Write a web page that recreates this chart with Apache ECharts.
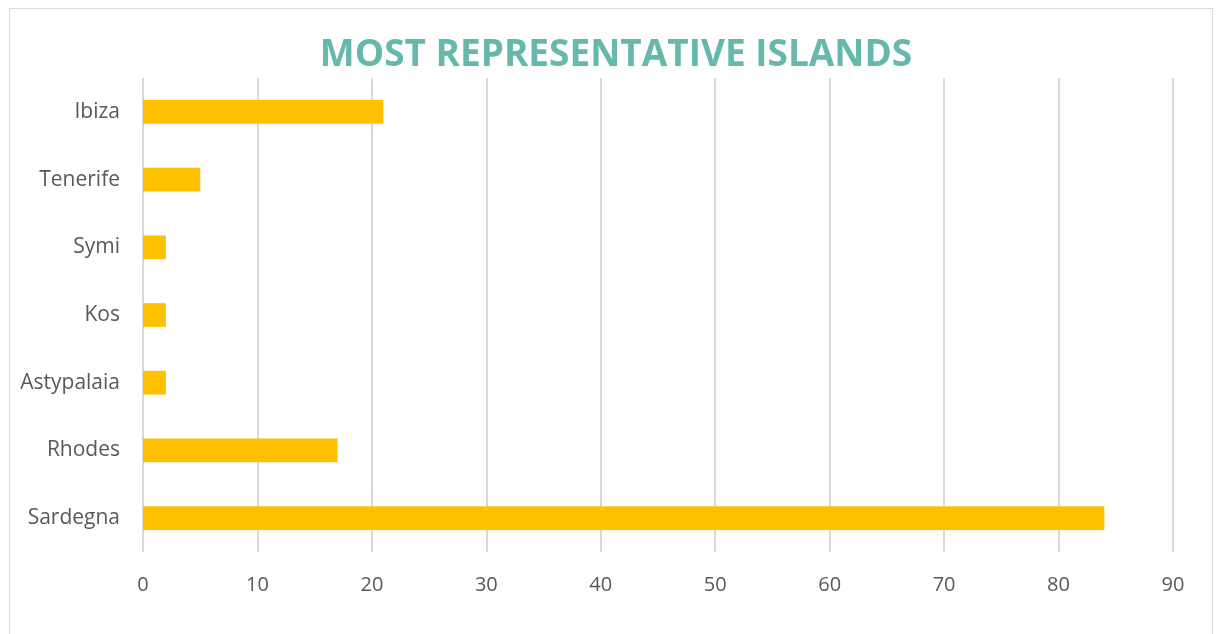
<!DOCTYPE html>
<html>
<head>
<meta charset="utf-8">
<script src="https://cdn.jsdelivr.net/npm/echarts@6/dist/echarts.min.js"></script>
<style>
  html, body { margin: 0; padding: 0; background: #ffffff; }
  #frame {
    position: absolute; left: 9px; top: 8px; width: 1204px; height: 640px;
    border: 1px solid #d9d9d9; box-sizing: border-box; background: #fff;
  }
  #chart { position: absolute; left: 0; top: 0; width: 1216px; height: 634px; }
</style>
</head>
<body>
<div id="frame"></div>
<div id="chart"></div>
<script>
// Islands listed bottom-to-top as the category axis draws them
const islands = ['Sardegna', 'Rhodes', 'Astypalaia', 'Kos', 'Symi', 'Tenerife', 'Ibiza'];
const counts = [84, 17, 2, 2, 2, 5, 21];
const titleText = 'MOST REPRESENTATIVE ISLANDS';

const chart = echarts.init(document.getElementById('chart'), null, { renderer: 'canvas' });
chart.setOption({
  animation: false,
  backgroundColor: 'transparent',
  title: {
    text: titleText,
    left: 611,
    textAlign: 'center',
    top: 32,
    textStyle: {
      fontFamily: 'Open Sans',
      fontWeight: 'bold',
      fontSize: 37,
      color: '#67b8ac'
    }
  },
  grid: { left: 143, right: 43, top: 78, bottom: 82, containLabel: false },
  xAxis: {
    type: 'value',
    min: 0,
    max: 90,
    interval: 10,
    axisLine: { show: false },
    axisTick: { show: false },
    splitLine: { show: true, lineStyle: { color: '#d9d9d9', width: 2 } },
    axisLabel: {
      fontFamily: 'Open Sans',
      fontSize: 20,
      color: '#595959',
      margin: 23
    }
  },
  yAxis: {
    type: 'category',
    data: islands,
    axisLine: { show: false },
    axisTick: { show: false },
    axisLabel: {
      fontFamily: 'Open Sans',
      fontSize: 21,
      color: '#595959',
      margin: 23
    }
  },
  series: [{
    type: 'bar',
    data: counts,
    barCategoryGap: '65%',
    itemStyle: { color: '#ffc000' }
  }]
});
</script>
</body>
</html>
